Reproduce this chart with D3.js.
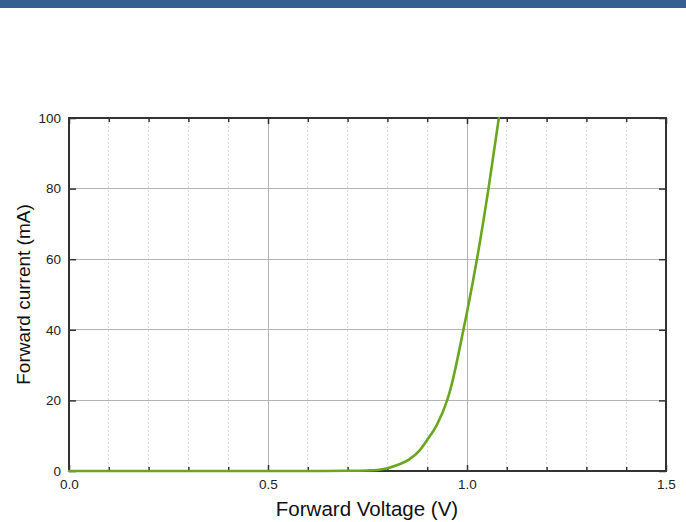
<!DOCTYPE html>
<html>
<head>
<meta charset="utf-8">
<script src="https://cdn.jsdelivr.net/npm/d3@7"></script>
<style>
  html, body { margin: 0; padding: 0; background: #fff; }
  svg { display: block; font-family: "Liberation Sans", Arial, sans-serif; }
</style>
</head>
<body>
<svg id="chart" width="686" height="522"></svg>
<script>
// Data
const voltage = [0, 0.1, 0.2, 0.3, 0.4, 0.5, 0.6, 0.7, 0.75, 0.775, 0.80, 0.83, 0.855, 0.88, 0.90, 0.924, 0.95, 0.958, 0.991, 1.0, 1.025, 1.054, 1.08];
const current = [0, 0, 0, 0, 0, 0, 0, 0.05, 0.15, 0.3, 0.8, 1.9, 3.3, 5.7, 8.8, 13, 20, 23, 40, 45, 60, 80, 100];
const xMajorTicks = [0.0, 0.5, 1.0, 1.5];
const xMinorTicks = [0.1, 0.2, 0.3, 0.4, 0.6, 0.7, 0.8, 0.9, 1.1, 1.2, 1.3, 1.4];
const yTicks = [0, 20, 40, 60, 80, 100];
const xLabel = "Forward Voltage (V)";
const yLabel = "Forward current (mA)";

(function () {
const svg = d3.select("#chart");
const W = 686, H = 522;
const mLeft = 69, mRight = 666, mTop = 118, mBottom = 471;

// top banner
svg.append("rect").attr("x", 0).attr("y", 0).attr("width", W).attr("height", 8).attr("fill", "#365f91");

const x = d3.scaleLinear().domain([0, 1.5]).range([mLeft, mRight]);
const y = d3.scaleLinear().domain([0, 100]).range([mBottom, mTop]);

// minor vertical dotted grid
svg.append("g").selectAll("line").data(xMinorTicks).join("line")
  .attr("x1", d => x(d)).attr("x2", d => x(d))
  .attr("y1", mTop).attr("y2", mBottom)
  .attr("stroke", "#dcdcdc").attr("stroke-width", 1).attr("stroke-dasharray", "2,2")
  .attr("shape-rendering", "crispEdges");

// major vertical grid
svg.append("g").selectAll("line").data(xMajorTicks.slice(1, -1)).join("line")
  .attr("x1", d => x(d)).attr("x2", d => x(d))
  .attr("y1", mTop).attr("y2", mBottom)
  .attr("stroke", "#b4b4b4").attr("stroke-width", 1)
  .attr("shape-rendering", "crispEdges");

// horizontal grid
svg.append("g").selectAll("line").data(yTicks.slice(1, -1)).join("line")
  .attr("x1", mLeft).attr("x2", mRight)
  .attr("y1", d => y(d)).attr("y2", d => y(d))
  .attr("stroke", "#b4b4b4").attr("stroke-width", 1)
  .attr("shape-rendering", "crispEdges");

const tickColor = "#333";
const fontSize = "13.5px";

const xBottom = svg.append("g").attr("transform", `translate(0,${mBottom})`)
  .call(d3.axisBottom(x).tickValues(xMajorTicks).tickSize(-6).tickPadding(8).tickFormat(d3.format(".1f")));
const xBottomMinor = svg.append("g").attr("transform", `translate(0,${mBottom})`)
  .call(d3.axisBottom(x).tickValues(xMinorTicks).tickSize(-4).tickFormat(""));
const xTopAxis = svg.append("g").attr("transform", `translate(0,${mTop})`)
  .call(d3.axisTop(x).tickValues(xMajorTicks).tickSize(-6).tickFormat(""));
const xTopMinor = svg.append("g").attr("transform", `translate(0,${mTop})`)
  .call(d3.axisTop(x).tickValues(xMinorTicks).tickSize(-4).tickFormat(""));
const yLeftAxis = svg.append("g").attr("transform", `translate(${mLeft},0)`)
  .call(d3.axisLeft(y).tickValues(yTicks).tickSize(-7).tickPadding(8).tickFormat(d3.format("d")));
const yRightAxis = svg.append("g").attr("transform", `translate(${mRight},0)`)
  .call(d3.axisRight(y).tickValues(yTicks).tickSize(-7).tickFormat(""));

[xBottom, xBottomMinor, xTopAxis, xTopMinor, yLeftAxis, yRightAxis].forEach(g => {
  g.select(".domain").remove();
  g.selectAll(".tick line").attr("stroke", tickColor).attr("stroke-width", 1.5);
  g.selectAll(".tick text").attr("fill", "#222").style("font-size", fontSize)
    .style("font-family", '"Liberation Sans", Arial, sans-serif');
});

// frame
svg.append("rect").attr("x", mLeft).attr("y", mTop)
  .attr("width", mRight - mLeft).attr("height", mBottom - mTop)
  .attr("fill", "none").attr("stroke", "#333").attr("stroke-width", 2);

// curve
const pts = voltage.map((v, i) => [v, current[i]]);
const line = d3.line().x(d => x(d[0])).y(d => y(d[1])).curve(d3.curveMonotoneX);
svg.append("path").datum(pts)
  .attr("d", line)
  .attr("fill", "none").attr("stroke", "#6aa620").attr("stroke-width", 2.6)
  .attr("stroke-linejoin", "round").attr("stroke-linecap", "round");

// axis titles
svg.append("text").attr("x", 367).attr("y", 516)
  .attr("text-anchor", "middle").attr("fill", "#111")
  .style("font-size", "20.5px").text(xLabel);
svg.append("text")
  .attr("transform", `translate(30,${(mTop + mBottom) / 2}) rotate(-90)`)
  .attr("text-anchor", "middle").attr("fill", "#111")
  .style("font-size", "19px").text(yLabel);
})();
</script>
</body>
</html>
